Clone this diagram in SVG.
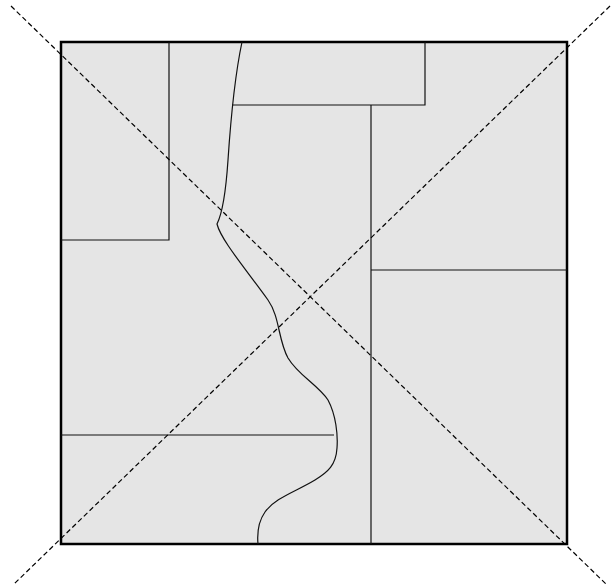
<svg xmlns="http://www.w3.org/2000/svg" width="613" height="586" viewBox="0 0 613 586">
<style>
.frame{fill:#e5e5e5;stroke:#000;stroke-width:2.5}
.ln{fill:none;stroke:#111;stroke-width:1.2}
.dash{fill:none;stroke:#000;stroke-width:1.2;stroke-dasharray:5,3}
</style>
<rect width="613" height="586" fill="#fff"/>
<g id="plan">
<rect class="frame" x="61" y="42" width="506" height="502"/>
<path class="ln" d="M169,42 V240 H61"/>
<path class="ln" d="M232,105 H425 V42"/>
<path class="ln" d="M371,105 V544"/>
<path class="ln" d="M371,270 H567"/>
<path class="ln" d="M61,435 H334"/>
<path class="ln" d="M242,42 C235,75 231,115 228,160 C226,190 223,212 217,224 C221,240 245,268 268,300 C280,317 278,340 288,358 C298,375 318,385 328,400 C336,415 338,435 337,448 C336,465 328,472 315,480 C295,492 275,498 265,512 C258,522 257,533 258,544"/>
</g>
<g id="connectors">
<line class="dash" x1="11" y1="6" x2="607" y2="585"/>
<line class="dash" x1="610" y1="6" x2="13" y2="585"/>
</g>
</svg>
